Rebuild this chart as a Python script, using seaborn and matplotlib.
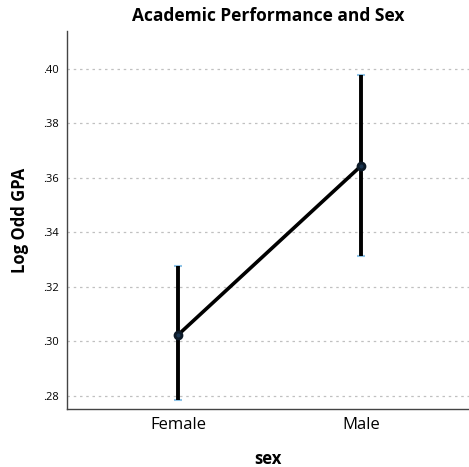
import numpy as np
import pandas as pd
import matplotlib
matplotlib.use("Agg")
import matplotlib.pyplot as plt
import seaborn as sns
from matplotlib.ticker import FuncFormatter, FixedLocator

sexes = ["Female", "Male"]
means = [0.3024, 0.3644]
lower = [0.2785, 0.3314]
upper = [0.3277, 0.3978]
yticks = [0.28, 0.30, 0.32, 0.34, 0.36, 0.38, 0.40]

df = pd.DataFrame({"sex": sexes, "gpa": means})

sns.set_style("white")
plt.rcParams["font.family"] = ["Open Sans", "DejaVu Sans"]
plt.rcParams["text.color"] = "black"
plt.rcParams["axes.labelcolor"] = "black"
plt.rcParams["xtick.color"] = "black"
plt.rcParams["ytick.color"] = "black"

fig = plt.figure(figsize=(4.69, 4.67), dpi=100)
ax = fig.add_axes([67 / 469, 1 - 409 / 467, 1 - 67 / 469, (409 - 31) / 467])

# Error bars
ax.vlines(x=[0, 1], ymin=lower, ymax=upper, color="black", linewidth=2.8, zorder=2)
for xi, lo, hi in zip([0, 1], lower, upper):
    ax.hlines([lo, hi], xi - 0.02, xi + 0.02, color="#8fc3e6", linewidth=1.5, zorder=1)

sns.pointplot(data=df, x="sex", y="gpa", color="black", errorbar=None,
              markers="o", linestyles="-", ax=ax, zorder=3)
for line in ax.lines:
    line.set_linewidth(2.6)
    line.set_markersize(5)
    line.set_markerfacecolor("#1b3550")
    line.set_markeredgecolor("#0d1a28")

ax.set_xlim(-0.607, 1.59)
ax.set_ylim(0.2752, 0.4139)
ax.yaxis.set_major_locator(FixedLocator(yticks))
ax.yaxis.set_major_formatter(FuncFormatter(lambda v, p: f"{v:.2f}".lstrip("0")))
ax.grid(axis="y", color="#c0c0c0", linestyle=(0, (2, 3)), linewidth=0.9)
ax.set_axisbelow(True)

for s in ["top", "right"]:
    ax.spines[s].set_visible(False)
for s in ["left", "bottom"]:
    ax.spines[s].set_color("#444444")
    ax.spines[s].set_linewidth(1.0)

ax.tick_params(axis="y", labelsize=8, length=0, pad=6)
ax.tick_params(axis="x", labelsize=12, length=0, pad=6)

ax.set_xlabel("sex", fontsize=12, fontweight="bold", labelpad=12)
ax.set_ylabel("Log Odd GPA", fontsize=12, fontweight="bold", labelpad=10)
ax.set_title("Academic Performance and Sex", fontsize=12.5, fontweight="bold", pad=7)

fig.savefig("out.png", dpi=100)
